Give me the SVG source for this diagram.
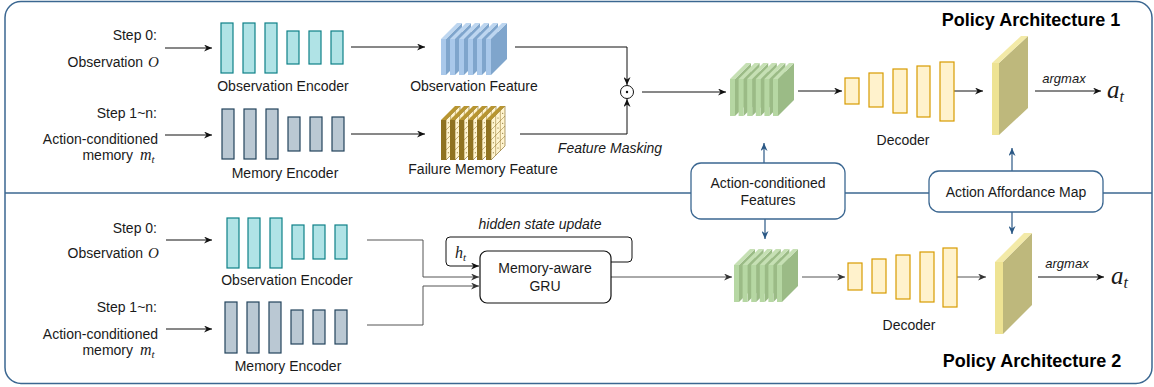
<svg xmlns="http://www.w3.org/2000/svg" xmlns:xlink="http://www.w3.org/1999/xlink" width="1154" height="387" viewBox="0 0 1154 387">
<style>
text{font-family:"Liberation Sans",Arial,sans-serif;font-size:14px;fill:#1a1a1a}
.it{font-style:italic}
.sm{font-size:13px}
.math{font-family:"Liberation Serif","Times New Roman",serif;font-style:italic}
.m15{font-size:15px}
.m16{font-size:16px}
.big{font-size:25px}
.sub{font-size:11px}
.subb{font-size:16px}
.title{font-weight:bold;font-size:18px;fill:#000}
.enc{fill:#B0E3E6;stroke:#0E8088;stroke-width:1.2}
.mem{fill:#BAC8D3;stroke:#23445D;stroke-width:1.2}
.dec{fill:#FFF2CC;stroke:#D79B00;stroke-width:1.2}
.ln{fill:none;stroke:#111;stroke-width:1}
.lg{fill:none;stroke:#555;stroke-width:1}
.lb{fill:none;stroke:#2A5885;stroke-width:1.2}
.frame{fill:none;stroke:#3B6791;stroke-width:1.5}
.call{fill:#fff;stroke:#3B6791;stroke-width:1.3}
.gf{fill:#B6D7A3}.gs{fill:#9BBB86}.gt{fill:#C6E0B4}
.bf{fill:#A9C8EA}.bs{fill:#7FA5CC}.bt{fill:#BDD6F0}
.ff{fill:#8F7220}.fs{fill:#FFF4CF;stroke:#7A5E15;stroke-width:0.6}.ft{fill:#B89530}
.grid{stroke:#8C6D1F;stroke-width:0.5;fill:none}
.af{fill:#EEE393}.as{fill:#BEB87C}.at{fill:#F3EAA8}
</style>
<defs>
<marker id="ah" viewBox="0 0 8 7" refX="8" refY="3.5" markerWidth="8" markerHeight="7" markerUnits="userSpaceOnUse" orient="auto"><path d="M0,0 L8,3.5 L0,7 L2.5,3.5 z" fill="#111"/></marker>
<marker id="ahg" viewBox="0 0 8 7" refX="8" refY="3.5" markerWidth="8" markerHeight="7" markerUnits="userSpaceOnUse" orient="auto"><path d="M0,0 L8,3.5 L0,7 L2.5,3.5 z" fill="#333"/></marker>
<marker id="ahb" viewBox="0 0 8 7" refX="8" refY="3.5" markerWidth="8" markerHeight="7" markerUnits="userSpaceOnUse" orient="auto"><path d="M0,0 L8,3.5 L0,7 L2.5,3.5 z" fill="#2A5885"/></marker>
<g id="gslab">
<polygon class="gs" points="5,16 21,0 21,37 5,53"/>
<polygon class="gt" points="0,16 16,0 21,0 5,16"/>
<rect class="gf" x="0" y="16" width="5" height="37"/>
</g>
<g id="bslab">
<polygon class="bs" points="5,16 21,0 21,36 5,52"/>
<polygon class="bt" points="0,16 16,0 21,0 5,16"/>
<rect class="bf" x="0" y="16" width="5" height="36"/>
</g>
<g id="fslab">
<polygon class="fs" points="5,14 19,0 19,40 5,54"/>
<path class="grid" d="M9.67,9.33 V49.33 M14.33,4.67 V44.67 M5,24 L19,10 M5,34 L19,20 M5,44 L19,30"/>
<g fill="#6b5210">
<circle cx="7.3" cy="16.7" r="0.55"/><circle cx="12" cy="12" r="0.55"/><circle cx="16.7" cy="7.3" r="0.55"/>
<circle cx="7.3" cy="26.7" r="0.55"/><circle cx="12" cy="22" r="0.55"/><circle cx="16.7" cy="17.3" r="0.55"/>
<circle cx="7.3" cy="36.7" r="0.55"/><circle cx="12" cy="32" r="0.55"/><circle cx="16.7" cy="27.3" r="0.55"/>
<circle cx="7.3" cy="46.7" r="0.55"/><circle cx="12" cy="42" r="0.55"/><circle cx="16.7" cy="37.3" r="0.55"/>
</g>
<polygon class="ft" points="0,14 14,0 19,0 5,14"/>
<rect class="ff" x="0" y="14" width="5" height="40"/>
</g>
</defs>

<g id="frame">
<rect class="frame" x="5" y="1.5" width="1147" height="382" rx="16"/>
<line class="frame" x1="5" y1="193" x2="1152" y2="193"/>
</g>

<g id="connectors">
<line class="ln" x1="165" y1="48" x2="212" y2="48" marker-end="url(#ah)"/>
<line class="ln" x1="165" y1="135" x2="212" y2="135" marker-end="url(#ah)"/>
<line class="ln" x1="351" y1="47" x2="425" y2="47" marker-end="url(#ah)"/>
<line class="ln" x1="351" y1="134" x2="425" y2="134" marker-end="url(#ah)"/>
<path class="ln" d="M515,47 H627 V85" marker-end="url(#ah)"/>
<path class="ln" d="M520,134 H627 V99" marker-end="url(#ah)"/>
<line class="ln" x1="642" y1="92" x2="726" y2="92" marker-end="url(#ah)"/>
<line class="ln" x1="798" y1="91" x2="842" y2="91" marker-end="url(#ah)"/>
<line class="ln" x1="954" y1="91" x2="983" y2="91" marker-end="url(#ah)"/>
<line class="ln" x1="1035" y1="91" x2="1101" y2="91" marker-end="url(#ah)"/>

<line class="ln" x1="166" y1="240" x2="212" y2="240" marker-end="url(#ah)"/>
<line class="ln" x1="166" y1="329" x2="212" y2="329" marker-end="url(#ah)"/>
<path class="lg" d="M367,240 H423 V277 H479" marker-end="url(#ahg)"/>
<path class="lg" d="M367,325 H423 V286 H479" marker-end="url(#ahg)"/>
<path class="ln" d="M611,262 H628 Q632,262 632,258 V241 Q632,237 628,237 H450 Q446,237 446,241 V262 Q446,266 450,266 H479" marker-end="url(#ah)"/>
<line class="lg" x1="611" y1="277" x2="732" y2="277" marker-end="url(#ahg)"/>
<line class="lg" x1="802" y1="277" x2="845" y2="277" marker-end="url(#ahg)"/>
<line class="lg" x1="957" y1="277" x2="986" y2="277" marker-end="url(#ahg)"/>
<line class="ln" x1="1038" y1="277" x2="1104" y2="277" marker-end="url(#ah)"/>

<line class="lb" x1="764" y1="163" x2="764" y2="143" marker-end="url(#ahb)"/>
<line class="lb" x1="765" y1="219" x2="765" y2="239" marker-end="url(#ahb)"/>
<line class="lb" x1="1012" y1="171" x2="1012" y2="148" marker-end="url(#ahb)"/>
<line class="lb" x1="1012" y1="212" x2="1012" y2="234" marker-end="url(#ahb)"/>
</g>

<g id="input-top">
<text x="157" y="40" text-anchor="end">Step 0:</text>
<text x="143" y="67" text-anchor="end">Observation</text>
<text x="148" y="67" class="math m15">O</text>
<text x="157" y="118" text-anchor="end">Step 1~n:</text>
<text x="158" y="144" text-anchor="end">Action-conditioned</text>
<text x="133" y="160" text-anchor="end">memory</text>
<text x="140" y="160" class="math m16">m<tspan class="sub" dy="3">t</tspan></text>
</g>

<g id="obs-encoder-1">
<rect class="enc" x="221" y="23" width="12" height="50"/>
<rect class="enc" x="243" y="23" width="12" height="50"/>
<rect class="enc" x="265" y="23" width="12" height="50"/>
<rect class="enc" x="287" y="31" width="12" height="33"/>
<rect class="enc" x="309" y="31" width="12" height="33"/>
<rect class="enc" x="331" y="31" width="12" height="33"/>
<text x="283" y="91" text-anchor="middle">Observation Encoder</text>
</g>

<g id="mem-encoder-1">
<rect class="mem" x="222" y="109" width="12" height="50"/>
<rect class="mem" x="244" y="109" width="12" height="50"/>
<rect class="mem" x="266" y="109" width="12" height="50"/>
<rect class="mem" x="288" y="117" width="12" height="34"/>
<rect class="mem" x="310" y="117" width="12" height="34"/>
<rect class="mem" x="332" y="117" width="12" height="34"/>
<text x="285" y="178" text-anchor="middle">Memory Encoder</text>
</g>

<g id="obs-feature">
<g transform="translate(441,23)">
<use xlink:href="#bslab" x="0"/><use xlink:href="#bslab" x="9"/><use xlink:href="#bslab" x="18"/>
<use xlink:href="#bslab" x="27"/><use xlink:href="#bslab" x="36"/><use xlink:href="#bslab" x="45"/>
</g>
<text x="474" y="91" text-anchor="middle">Observation Feature</text>
</g>

<g id="failure-feature">
<g transform="translate(441,106)">
<use xlink:href="#fslab" x="0"/><use xlink:href="#fslab" x="9"/><use xlink:href="#fslab" x="18"/>
<use xlink:href="#fslab" x="27"/><use xlink:href="#fslab" x="36"/><use xlink:href="#fslab" x="45"/>
</g>
<text x="483" y="174" text-anchor="middle">Failure Memory Feature</text>
</g>

<g id="masking">
<circle cx="627" cy="92" r="6.5" fill="#fff" stroke="#111" stroke-width="1"/>
<circle cx="627" cy="92" r="1.2" fill="#111"/>
<text x="610" y="153" text-anchor="middle" class="it">Feature Masking</text>
</g>

<g id="ac-feature-1">
<g transform="translate(730,63)">
<use xlink:href="#gslab" x="0"/><use xlink:href="#gslab" x="8.6"/><use xlink:href="#gslab" x="17.2"/>
<use xlink:href="#gslab" x="25.8"/><use xlink:href="#gslab" x="34.4"/><use xlink:href="#gslab" x="43"/>
</g>
</g>

<g id="decoder-1">
<rect class="dec" x="845" y="78" width="14" height="26"/>
<rect class="dec" x="869" y="73" width="14" height="34"/>
<rect class="dec" x="893" y="69" width="14" height="44"/>
<rect class="dec" x="917" y="66" width="13" height="51"/>
<rect class="dec" x="940" y="62" width="14" height="59"/>
<text x="903" y="145" text-anchor="middle">Decoder</text>
</g>

<g id="affordance-1">
<polygon class="as" points="999,63 1028,36 1028,108 999,135"/>
<polygon class="at" points="992,63 1021,36 1028,36 999,63"/>
<rect class="af" x="992" y="63" width="7" height="72"/>
<text x="1064" y="83" text-anchor="middle" class="it sm">argmax</text>
<text x="1107" y="98" class="math big">a<tspan class="subb" dy="4">t</tspan></text>
</g>

<text id="title-1" x="1031" y="26" text-anchor="middle" class="title">Policy Architecture 1</text>

<g id="callout-features">
<rect class="call" x="691" y="163" width="154" height="56" rx="10"/>
<text x="768" y="188" text-anchor="middle">Action-conditioned</text>
<text x="768" y="205" text-anchor="middle">Features</text>
</g>

<g id="callout-affordance">
<rect class="call" x="929" y="171" width="174" height="41" rx="10"/>
<text x="1016" y="197" text-anchor="middle">Action Affordance Map</text>
</g>

<g id="input-bottom">
<text x="157" y="233" text-anchor="end">Step 0:</text>
<text x="143" y="258" text-anchor="end">Observation</text>
<text x="148" y="258" class="math m15">O</text>
<text x="157" y="312" text-anchor="end">Step 1~n:</text>
<text x="158" y="339" text-anchor="end">Action-conditioned</text>
<text x="133" y="355" text-anchor="end">memory</text>
<text x="140" y="355" class="math m16">m<tspan class="sub" dy="3">t</tspan></text>
</g>

<g id="obs-encoder-2">
<rect class="enc" x="227" y="218" width="12" height="50"/>
<rect class="enc" x="248" y="218" width="12" height="50"/>
<rect class="enc" x="270" y="218" width="12" height="50"/>
<rect class="enc" x="292" y="225" width="12" height="34"/>
<rect class="enc" x="313" y="225" width="12" height="34"/>
<rect class="enc" x="335" y="225" width="12" height="34"/>
<text x="287" y="285" text-anchor="middle">Observation Encoder</text>
</g>

<g id="mem-encoder-2">
<rect class="mem" x="225" y="302" width="12" height="51"/>
<rect class="mem" x="247" y="302" width="12" height="51"/>
<rect class="mem" x="269" y="302" width="12" height="51"/>
<rect class="mem" x="291" y="310" width="12" height="34"/>
<rect class="mem" x="313" y="310" width="12" height="34"/>
<rect class="mem" x="335" y="310" width="12" height="34"/>
<text x="288" y="371" text-anchor="middle">Memory Encoder</text>
</g>

<g id="gru">
<rect x="480" y="251" width="131" height="52" rx="7" fill="#fff" stroke="#111" stroke-width="1.2"/>
<text x="545" y="273" text-anchor="middle">Memory-aware</text>
<text x="545" y="291" text-anchor="middle">GRU</text>
<text x="540" y="229" text-anchor="middle" class="it">hidden state update</text>
<text x="455" y="258" class="math m16">h<tspan class="sub" dy="3">t</tspan></text>
</g>

<g id="ac-feature-2">
<g transform="translate(734,249)">
<use xlink:href="#gslab" x="0"/><use xlink:href="#gslab" x="8.6"/><use xlink:href="#gslab" x="17.2"/>
<use xlink:href="#gslab" x="25.8"/><use xlink:href="#gslab" x="34.4"/><use xlink:href="#gslab" x="43"/>
</g>
</g>

<g id="decoder-2">
<rect class="dec" x="848" y="263" width="14" height="27"/>
<rect class="dec" x="872" y="259" width="14" height="34"/>
<rect class="dec" x="896" y="255" width="14" height="44"/>
<rect class="dec" x="920" y="252" width="14" height="50"/>
<rect class="dec" x="943" y="248" width="14" height="59"/>
<text x="909" y="330" text-anchor="middle">Decoder</text>
</g>

<g id="affordance-2">
<polygon class="as" points="1003,262 1032,233 1032,305 1003,334"/>
<polygon class="at" points="995,262 1024,233 1032,233 1003,262"/>
<rect class="af" x="995" y="262" width="8" height="72"/>
<text x="1067" y="268" text-anchor="middle" class="it sm">argmax</text>
<text x="1111" y="284" class="math big">a<tspan class="subb" dy="4">t</tspan></text>
</g>

<text id="title-2" x="1032" y="367" text-anchor="middle" class="title">Policy Architecture 2</text>
</svg>
